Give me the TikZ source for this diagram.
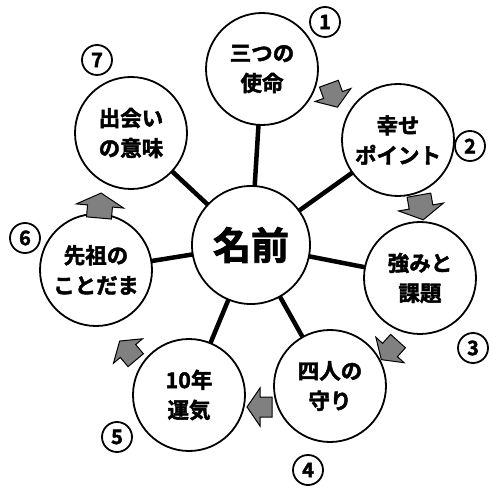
\documentclass[tikz,border=0pt]{standalone}
\usepackage{fontspec}
\setmainfont{Noto Sans CJK JP}[BoldFont={* Bold},BoldFeatures={FakeBold=2}]
\begin{document}
\begin{tikzpicture}[x=1pt,y=1pt]
\tikzset{
  outer/.style={circle,draw=black,line width=1.8pt,fill=white,minimum size=112pt,inner sep=0pt,align=center,font=\fontsize{21.5}{30}\selectfont\bfseries},
  hub/.style={circle,draw=black,line width=1.8pt,fill=white,minimum size=118pt,inner sep=0pt,font=\fontsize{38}{40}\selectfont\bfseries},
  spoke/.style={line width=4.5pt,black},
  num/.style={circle,draw=black,line width=1.8pt,minimum size=30pt,inner sep=0pt,font=\fontsize{20}{20}\selectfont\bfseries},
  blk/.pic={\draw[fill=black!50,line width=1pt,line join=miter] (-12,-10) -- (0,-10) -- (0,-19) -- (13,0) -- (0,19) -- (0,10) -- (-12,10) -- cycle;}
}
\useasboundingbox (0,0) rectangle (500,498);
\fill[white] (0,0) rectangle (500,498);
% coordinates: (px, 498-py)
\coordinate (pc) at (251,253);
\coordinate (p1) at (262,429);
\coordinate (p2) at (398,358);
\coordinate (p3) at (420,220);
\coordinate (p4) at (330,112);
\coordinate (p5) at (189,103);
\coordinate (p6) at (96,228);
\coordinate (p7) at (131,365);
\foreach \i in {1,...,7}{\draw[spoke] (pc) -- (p\i);}
\node[hub] (c) at (pc) {名前};
\node[outer] (n1) at (p1) {三つの\\使命};
\node[outer] (n2) at (p2) {幸せ\\ポイント};
\node[outer] (n3) at (p3) {強みと\\課題};
\node[outer] (n4) at (p4) {四人の\\守り};
\node[outer] (n5) at (p5) {10年\\運気};
\node[outer] (n6) at (p6) {先祖の\\ことだま};
\node[outer] (n7) at (p7) {出会い\\の意味};
\node[num] (m1) at (325,476) {1};
\node[num] (m2) at (470,352) {2};
\node[num] (m3) at (473,150) {3};
\node[num] (m4) at (308,28) {4};
\node[num] (m5) at (117,61) {5};
\node[num] (m6) at (25,260) {6};
\node[num] (m7) at (97,438) {7};
\pic[rotate=-70] at (333,403) {blk};
\pic[rotate=-80,yscale=1.2] at (421,291) {blk};
\pic[rotate=-132] at (390,148) {blk};
\pic[rotate=180] at (260,91) {blk};
\pic[rotate=130] at (128,147) {blk};
\pic[rotate=85,yscale=1.25] at (100,292) {blk};
\end{tikzpicture}
\end{document}
